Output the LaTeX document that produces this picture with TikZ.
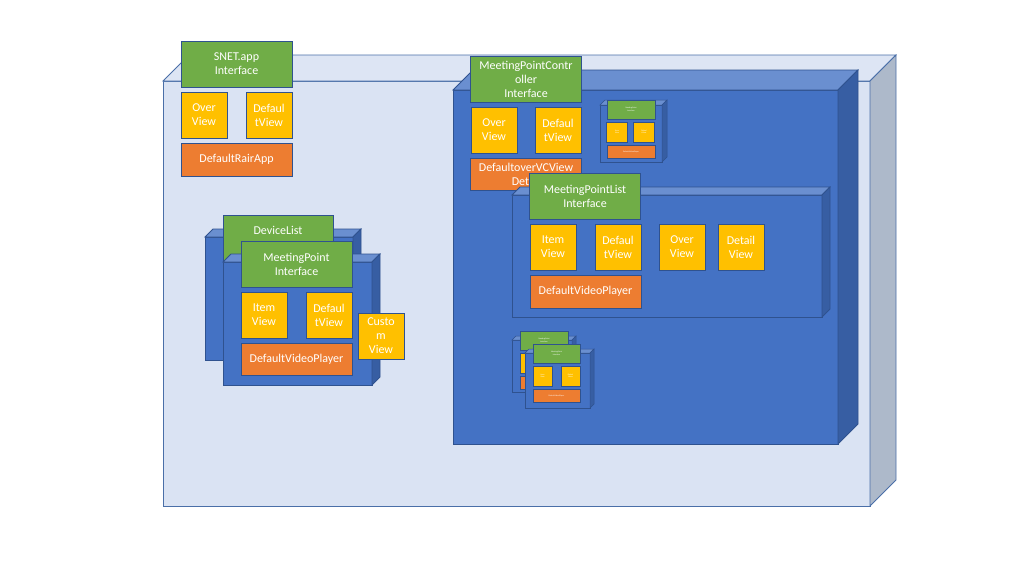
\documentclass[tikz,border=0pt]{standalone}
\usepackage{fontspec}
\setmainfont{Carlito}
\definecolor{litefront}{HTML}{DAE3F3}
\definecolor{litetop}{HTML}{DDE5F4}
\definecolor{liteside}{HTML}{ADB9CA}
\definecolor{liteline}{HTML}{4A6FA8}
\definecolor{bluefront}{HTML}{4472C4}
\definecolor{bluetop}{HTML}{6A8FD0}
\definecolor{blueside}{HTML}{375EA3}
\definecolor{boxline}{HTML}{2F528F}
\definecolor{ifgreen}{HTML}{70AD47}
\definecolor{viewyellow}{HTML}{FFC000}
\definecolor{playorange}{HTML}{ED7D31}
% front face corners x1,y1,x2,y2 / depth / colour set
\newcommand{\cuboid}[6]{%
  \filldraw[fill=#6front] (#1,#2) rectangle (#3,#4);
  \filldraw[fill=#6top] (#1,#2) -- (#1+#5,#2-#5) -- (#3+#5,#2-#5) -- (#3,#2) -- cycle;
  \filldraw[fill=#6side] (#3,#2) -- (#3+#5,#2-#5) -- (#3+#5,#4-#5) -- (#3,#4) -- cycle;}

\begin{document}
\begin{tikzpicture}[x=1pt,y=-1pt,
    box/.style={draw=boxline,line width=0.8pt,text=white,align=center,inner sep=0pt,
      font=\fontsize{12}{14}\selectfont},
    iface/.style={box,fill=ifgreen,minimum width=111pt,minimum height=46pt},
    view/.style={box,fill=viewyellow,minimum width=46pt,minimum height=46pt},
    player/.style={box,fill=playorange,minimum width=111pt,minimum height=33pt},
    tiny/.style={line width=0.4pt,font=\fontsize{2}{2.5}\selectfont}]
  \useasboundingbox (0,0) rectangle (1024,576);
  \fill[white] (0,0) rectangle (1024,576);

  % outer app box
  \begin{scope}[draw=liteline,line width=0.8pt]
    \cuboid{163}{81}{870}{506}{26}{lite}
  \end{scope}
  \node[iface] (snetif) at (236.5,64) {SNET.app\\Interface};
  \node[view] (snetover) at (204,115) {Over\\View};
  \node[view] (snetdef) at (269,115) {Defaul\\tView};
  \node[player] (snetrair) at (236.5,159.5) {DefaultRairApp};

  % controller box
  \begin{scope}[draw=boxline,line width=0.8pt]
    \cuboid{453}{90}{838}{444}{20}{blue}
  \end{scope}
  \node[iface] (mpcif) at (526,79) {MeetingPointContr\\oller\\Interface};
  \node[view] (mpcover) at (494,130) {Over\\View};
  \node[view] (mpcdef) at (558,130) {Defaul\\tView};
  \node[player,minimum height=32pt] (mpcdetail) at (526,174) {DefaultoverVCView\\Detail};

  % small copy, top
  \begin{scope}[draw=boxline,line width=0.5pt]
    \cuboid{600}{105}{662}{162}{5}{blue}
  \end{scope}
  \node[iface,tiny,minimum width=48pt,minimum height=19pt] (taif) at (631,109.5) {MeetingPoint\\Interface};
  \node[view,tiny,minimum width=21pt,minimum height=20pt] (taitem) at (617,132) {Item\\View};
  \node[view,tiny,minimum width=21pt,minimum height=20pt] (tadef) at (644,132) {Defaul\\tView};
  \node[player,tiny,minimum width=48pt,minimum height=13pt] (taplayer) at (631,151.5) {DefaultVideoPlayer};

  % list box
  \begin{scope}[draw=boxline,line width=0.8pt]
    \cuboid{512}{195}{822}{317}{8}{blue}
  \end{scope}
  \node[iface] (mplif) at (585,196) {MeetingPointList\\Interface};
  \node[view] (mplitem) at (553,247) {Item\\View};
  \node[view] (mpldef) at (618,247) {Defaul\\tView};
  \node[view] (mplover) at (682,247) {Over\\View};
  \node[view] (mpldetail) at (741,247) {Detail\\View};
  \node[player] (mplplayer) at (585.5,291.5) {DefaultVideoPlayer};

  % small copies, bottom
  \begin{scope}[draw=boxline,line width=0.5pt]
    \cuboid{512}{340}{572}{392}{4}{blue}
  \end{scope}
  \node[iface,tiny,minimum width=48pt,minimum height=19pt] (tbif) at (544,340.5) {MeetingPoint\\Interface};
  \node[view,tiny,minimum width=20pt,minimum height=20pt] (tbitem) at (530,363) {Item\\View};
  \node[view,tiny,minimum width=20pt,minimum height=20pt] (tbdef) at (558,363) {Defaul\\tView};
  \node[player,tiny,minimum width=48pt,minimum height=13pt] (tbplayer) at (544,382.5) {DefaultVideoPlayer};
  \begin{scope}[draw=boxline,line width=0.5pt]
    \cuboid{525}{353}{590}{408}{4}{blue}
  \end{scope}
  \node[iface,tiny,minimum width=47pt,minimum height=19pt] (tcif) at (556.5,353.5) {MeetingPoint\\Interface};
  \node[view,tiny,minimum width=19pt,minimum height=20pt] (tcitem) at (542.5,376) {Item\\View};
  \node[view,tiny,minimum width=19pt,minimum height=20pt] (tcdef) at (570.5,376) {Defaul\\tView};
  \node[player,tiny,minimum width=47pt,minimum height=13pt] (tcplayer) at (556.5,395.5) {DefaultVideoPlayer};

  % device list stack
  \begin{scope}[draw=boxline,line width=0.8pt]
    \cuboid{205}{237}{353}{360}{8}{blue}
  \end{scope}
  \node[iface,minimum width=110pt,minimum height=45pt] (devif) at (278,237.5) {DeviceList\\\phantom{I}};
  \begin{scope}[draw=boxline,line width=0.8pt]
    \cuboid{223}{262}{372}{385}{8}{blue}
  \end{scope}
  \node[iface] (mpif) at (296.5,264) {MeetingPoint\\Interface};
  \node[view] (mpitem) at (264,315) {Item\\View};
  \node[view] (mpdef) at (329,315) {Defaul\\tView};
  \node[player,minimum height=32pt] (mpplayer) at (296.5,359) {DefaultVideoPlayer};
  \node[view] (custom) at (381,336) {Custo\\m\\View};
\end{tikzpicture}
\end{document}
